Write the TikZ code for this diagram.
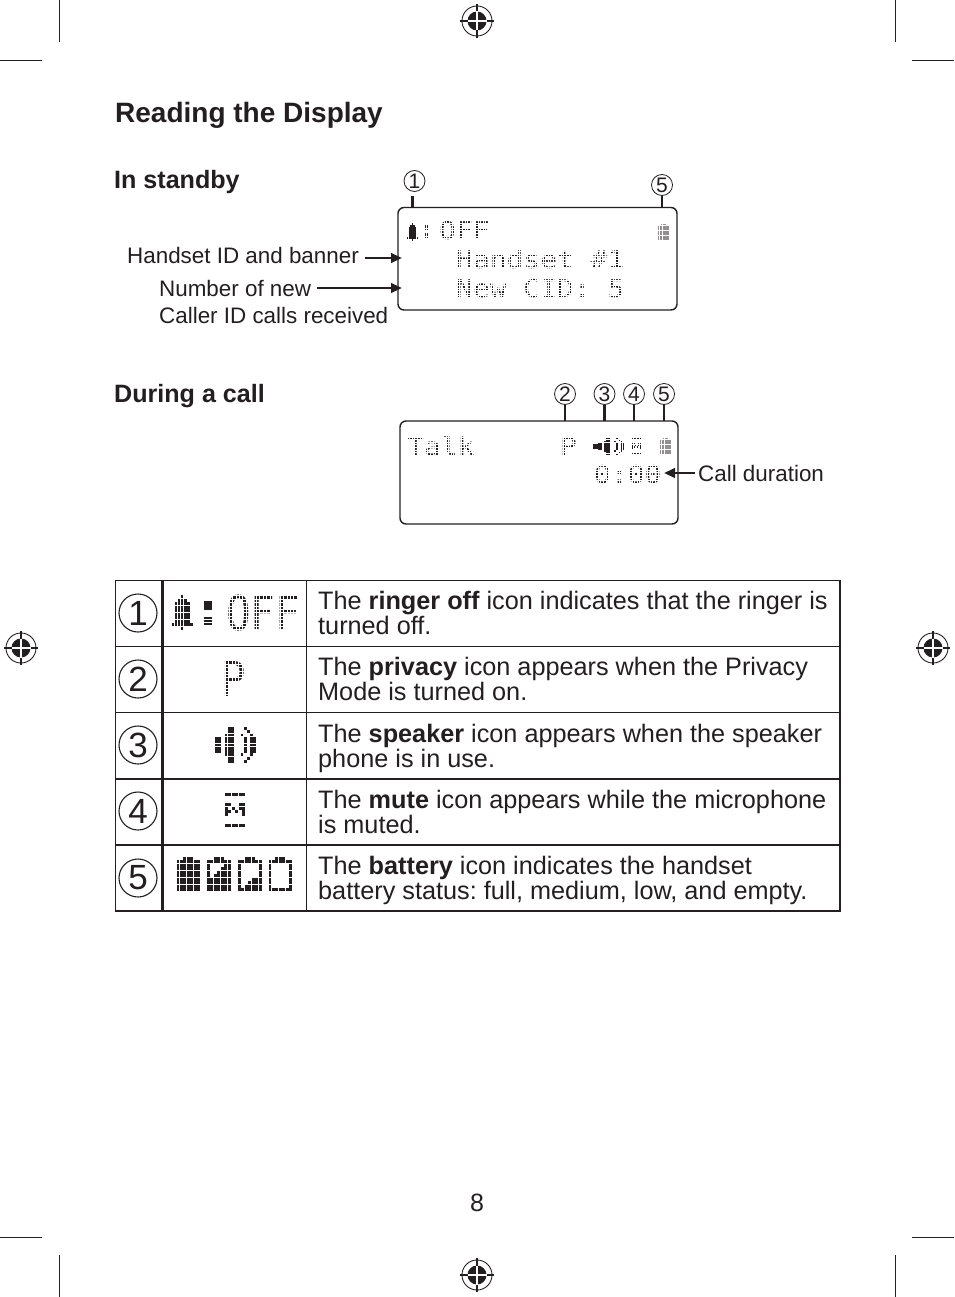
\documentclass[tikz,border=0pt]{standalone}
\usepackage{fontspec}
\usepackage{graphicx}
\setmainfont{Liberation Sans}
\newfontfamily\lcdfont{DejaVu Sans Mono}
\usetikzlibrary{arrows.meta}
\definecolor{ink}{HTML}{231F20}
\newcount\bmpx
\def\bmpcol{ink}
\makeatletter
\def\bmpwalk#1{\ifx#1\relax\else\ifx#1x\fill[\bmpcol] ({\bmpX+\the\bmpx*\bmpDX},{\bmpY+\bmpJ*\bmpDY}) rectangle ++({\bmpDX*.86},{\bmpDY*.86});\fi\advance\bmpx by 1 \expandafter\bmpwalk\fi}
\makeatother
\newcommand\bmp[5]{\def\bmpX{#1}\def\bmpY{#2}\def\bmpDX{#3}\def\bmpDY{#4}%
  \foreach \bmpR [count=\bmpJ from 0] in #5 {\bmpx=0 \expandafter\bmpwalk\bmpR\relax}}
% white gaps between the LCD dots: #1-#4 region, #5 pitch, #6 gap width
\newcommand\lcdgrid[6]{\pgfmathsetmacro\gxb{#1+#5}\pgfmathsetmacro\gyb{#2+#5}%
  \foreach \gx in {#1,\gxb,...,#3}{\fill[white] (\gx,#2) rectangle ++(#6,#4-#2);}
  \foreach \gy in {#2,\gyb,...,#4}{\fill[white] (#1,\gy) rectangle ++(#3-#1,#6);}}
\newcommand\regmark[1]{\begin{scope}[shift={(#1)}]
  \draw[ink,line width=.9] (0,0) circle (15);
  \fill[ink] (0,0) circle (9.5);
  \draw[ink,line width=1.2] (-17,0) -- (17,0) (0,-17) -- (0,17);
  \draw[white,line width=1.2] (-9.5,0) -- (9.5,0) (0,-9.5) -- (0,9.5);
\end{scope}}
\newcommand\fsz[2]{\fontsize{#1}{#2}\selectfont}
\def\battF{ooxxxoo,xxxxxxx,xxxxxxx,xxxxxxx,xxxxxxx,xxxxxxx,xxxxxxx,xxxxxxx,xxxxxxx,xxxxxxx}
\def\battM{ooxxxoo,xxxxxxx,xooooxx,xoooxxx,xooxxxx,xoxxxxx,xxxxxxx,xxxxxxx,xxxxxxx,xxxxxxx}
\def\battL{ooxxxoo,xxxxxxx,xooooox,xooooox,xooooox,xooooox,xoooxxx,xooxxxx,xoxxxxx,xxxxxxx}
\def\battE{ooxxxoo,xxxxxxx,xooooox,xooooox,xooooox,xooooox,xooooox,xooooox,xooooox,xxxxxxx}
\def\bell{oooxooo,ooxxxoo,oxxxxxo,oxxxxxo,oxxxxxo,oxxxxxo,oxxxxxo,oxxxxxo,xxxxxxx,oooxooo}
\def\colonb{xx,xx,xx,oo,oo,xx,xx,xx}
\def\spk{ooooxxoooxooo,ooooxxooooxoo,oooxxxooxooxo,xxoxxxoooxoxx,xxoxxxoooxoxx,xxoxxxoooxoxx,xxoxxxoooxoxx,xxoxxxoooxoxx,oooxxxooxooxo,ooooxxooooxoo,ooooxxoooxooo}
\def\mute{xxxxxx,oooooo,oooooo,xxooxx,xoxoxx,xxoxox,xoooox,oooooo,oooooo,xxxxxx}
\tikzset{
  body/.style={inner sep=0,anchor=base west,text=ink},
  lbl/.style={inner sep=0,anchor=base west,text=ink,font=\fsz{22.4}{27}},
  heading/.style={inner sep=0,anchor=base west,text=ink,font=\fsz{25.1}{30}\bfseries},
  cell/.style={inner sep=0,anchor=north west,text=ink,align=left,font=\fsz{25.25}{25.3}\frenchspacing},
  circS/.style={circle,draw=ink,line width=.8,minimum size=21,inner sep=0,text=ink,font=\fsz{21}{22}},
  circL/.style={circle,draw=ink,line width=1.1,minimum size=38,inner sep=0,text=ink,font=\fsz{35}{38}},
  lcd/.style={inner sep=0,anchor=base west,text=ink,font=\lcdfont\fsz{24.5}{26}},
  lcdbig/.style={inner sep=0,anchor=base west,text=ink,font=\lcdfont\fsz{48}{50}},
  panel/.style={draw=ink,line width=1.4,rounded corners=6,inner sep=0,outer sep=0,anchor=north west},
  tick/.style={draw=ink,line width=2.2},
  arr/.style={draw=ink,line width=2.4,-{Triangle[length=11,width=9.5]}},
  crop/.style={draw=ink,line width=.8},
  rule/.style={draw=ink,line width=1.6}
}
\begin{document}
\begin{tikzpicture}[x=1pt,y=-1pt]
\useasboundingbox (0,0) rectangle (954,1297);
\fill[white] (0,0) rectangle (954,1297);
% crop marks
\draw[crop] (59,0) -- (59,42) (895,0) -- (895,42) (59,1255) -- (59,1297) (895,1255) -- (895,1297);
\draw[crop] (0,60) -- (42,60) (912,60) -- (954,60) (0,1237) -- (42,1237) (912,1237) -- (954,1237);
\regmark{477,21} \regmark{21,648} \regmark{933,648} \regmark{477,1275}
% headings
\node[heading,font=\fsz{28}{32}\bfseries] (title) at (115,123) {Reading the Display};
\node[heading] (standby) at (114,189) {In standby};
\node[heading] (during) at (114,402) {During a call};
% panel A
\node[panel,minimum width=279,minimum height=102.5] (pa) at (398,207.5) {};
\node[lcd] (ta1) at (439,240) {\scalebox{1.14}[1]{OFF}};
\node[lcd] (ta2) at (456,269) {\scalebox{1.14}[1]{Handset~\#1}};
\node[lcd] (ta3) at (456,297) {\scalebox{1.14}[1]{New~CID:~5}};
\lcdgrid{436}{220}{630}{300}{2.6}{.5}
\bmp{407}{223.5}{1.6}{1.75}{\bell}
\bmp{424.5}{225.5}{2.1}{1.6}{\colonb}
\def\bmpcol{ink!50}
\bmp{658}{224}{1.55}{1.65}{\battF}
\def\bmpcol{ink}
% panel B
\node[panel,minimum width=278,minimum height=103] (pb) at (400,421) {};
\node[lcd] (tb1) at (407,455) {\scalebox{1.14}[1]{Talk}};
\node[lcd] (tb2) at (560,455) {\scalebox{1.14}[1]{P}};
\node[lcd] (tb3) at (594,483) {\scalebox{1.14}[1]{0:00}};
\lcdgrid{404}{434}{585}{460}{2.6}{.5}
\lcdgrid{590}{462}{664}{488}{2.6}{.5}
\fill[ink] (593,444) rectangle (598,449);
\bmp{598}{438}{2.05}{1.55}{\spk}
\bmp{632}{438}{1.5}{1.65}{\mute}
\def\bmpcol{ink!50}
\bmp{660}{438}{1.55}{1.65}{\battF}
\def\bmpcol{ink}
% callouts
\node[circS] (ca1) at (414.5,181) {1};
\node[circS] (ca5) at (662,185) {5};
\node[circS] (cb2) at (565,394) {2};
\node[circS] (cb3) at (604.5,394) {3};
\node[circS] (cb4) at (634,394) {4};
\node[circS] (cb5) at (664,394) {5};
\draw[tick] (412.5,196) -- (412.5,208);
\draw[tick] (ca5.south) -- (ca5.south |- pa.north);
\draw[tick] (cb2.south) -- (cb2.south |- pb.north);
\draw[tick] (cb3.south) -- (cb3.south |- pb.north);
\draw[tick] (cb4.south) -- (cb4.south |- pb.north);
\draw[tick] (cb5.south) -- (cb5.south |- pb.north);
% labels and arrows
\node[lbl] (l1) at (127,263) {Handset ID and banner};
\node[lbl] (l2) at (159,296) {Number of new};
\node[lbl] (l3) at (159,323) {Caller ID calls received};
\node[lbl] (l4) at (698,481) {Call duration};
\coordinate (a1s) at (365,258); \coordinate (a1e) at (402,258);
\coordinate (a2s) at (317,288); \coordinate (a2e) at (402,288);
\coordinate (a3s) at (695,473); \coordinate (a3e) at (664,473);
\draw[arr] (a1s) -- (a1e);
\draw[arr] (a2s) -- (a2e);
\draw[arr] (a3s) -- (a3e);
% table
\draw[rule] (115.5,580.5) rectangle (840,911);
\draw[rule] (115.5,646.5) -- (840,646.5) (115.5,712.5) -- (840,712.5);
\draw[rule,line width=2] (115.5,779) -- (840,779) (115.5,845) -- (840,845);
\draw[rule,line width=2.2] (162.5,580.5) -- (162.5,911);
\draw[rule] (306.5,580.5) -- (306.5,911);
\node[circL] (n1) at (138,613) {1};
\node[circL] (n2) at (138,679) {2};
\node[circL] (n3) at (138,745) {3};
\node[circL] (n4) at (138,811) {4};
\node[circL] (n5) at (138,878) {5};
\node[cell] (d1) at (318,591) {The \textbf{ringer off} icon indicates that the ringer is\\turned off.};
\node[cell] (d2) at (318,657) {The \textbf{privacy} icon appears when the Privacy\\Mode is turned on.};
\node[cell] (d3) at (318,724) {The \textbf{speaker} icon appears when the speaker\\phone is in use.};
\node[cell] (d4) at (318,790) {The \textbf{mute} icon appears while the microphone\\is muted.};
\node[cell] (d5) at (318,855.5) {The \textbf{battery} icon indicates the handset\\battery status: full, medium, low, and empty.};
% table icons
\node[lcdbig] (off) at (226,630) {\scalebox{.85}[1]{OFF}};
\node[lcdbig] (pp) at (221,696) {\scalebox{.85}[1]{P}};
\lcdgrid{222}{592}{300}{633}{3.4}{.5}
\lcdgrid{218}{657}{250}{699}{3.4}{.5}
\bmp{171.7}{595}{3.05}{3.55}{\bell}
\bmp{204}{601}{4.2}{3.1}{\colonb}
\bmp{215}{727}{3.2}{3.3}{\spk}
\bmp{225}{793}{3.4}{3.4}{\mute}
\bmp{176.5}{857}{3.45}{3.45}{\battF}
\bmp{207}{857}{3.45}{3.45}{\battM}
\bmp{238}{857}{3.45}{3.45}{\battL}
\bmp{268.5}{857}{3.45}{3.45}{\battE}
\node[body,font=\fsz{25}{28}] (pg) at (470,1211) {8};
\end{tikzpicture}
\end{document}
